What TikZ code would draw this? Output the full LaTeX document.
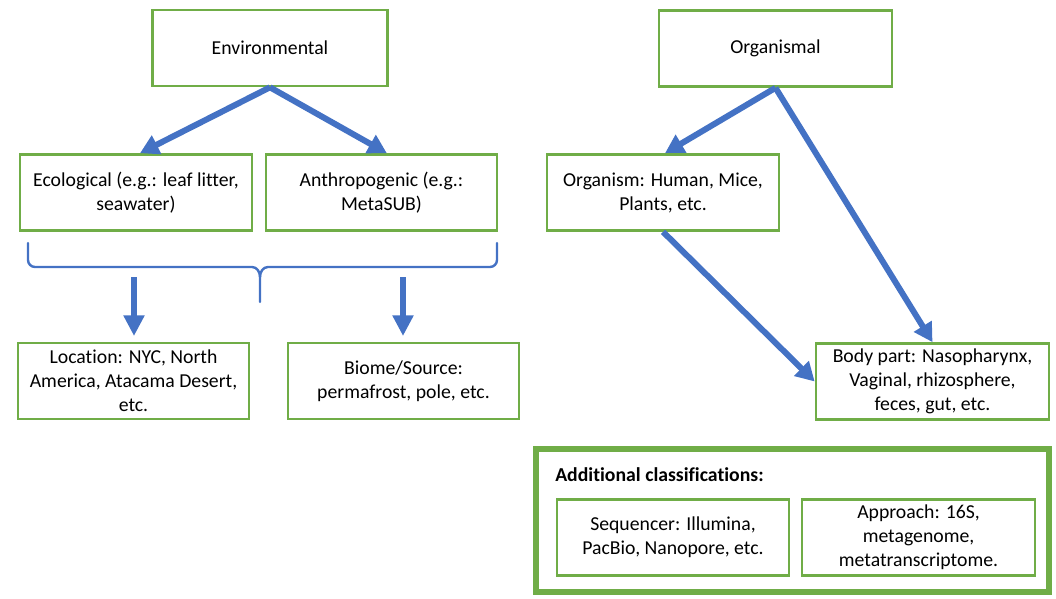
\documentclass[tikz,border=0pt]{standalone}
\usepackage{fontspec}
\setmainfont{Carlito}[Ligatures=NoCommon]
\usetikzlibrary{arrows.meta}
\definecolor{boxgreen}{HTML}{70AD47}
\definecolor{arrblue}{HTML}{4472C4}
\tikzset{
  catbox/.style={draw=boxgreen, line width=2pt, fill=white, inner sep=0pt,
    minimum height=76*0.75pt, align=center,
    font=\fontsize{14.8pt}{18pt}\selectfont},
  bigarrow/.style={draw=arrblue, line width=4.5pt,
    -{Triangle[length=14pt,width=15pt]}},
  downarrow/.style={draw=arrblue, line width=5.2pt,
    -{Triangle[length=15.5pt,width=15pt]}},
  bracepath/.style={draw=arrblue, line width=1.8pt, line cap=round},
}
\begin{document}
\begin{tikzpicture}[x=0.75pt,y=-0.75pt]
\useasboundingbox (0,0) rectangle (1056,599);

% top level
\node[catbox, minimum width=235*0.75pt] (env) at (270,48) {Environmental};
\node[catbox, minimum width=233*0.75pt] (org) at (775.5,48.5) {Organismal};

% second level
\node[catbox, minimum width=232*0.75pt] (eco) at (136,192.5) {Ecological (e.g.: leaf litter,\\ seawater)};
\node[catbox, minimum width=231*0.75pt] (anth) at (381.5,192.5) {Anthropogenic (e.g.:\\ MetaSUB)};
\node[catbox, minimum width=232*0.75pt] (orgm) at (663,192.5) {Organism: Human, Mice,\\ Plants, etc.};

% third level
\node[catbox, minimum width=231*0.75pt] (loc) at (133.5,381) {Location: NYC, North\\ America, Atacama Desert,\\ etc.};
\node[catbox, minimum width=231*0.75pt] (bio) at (403.5,381) {Biome/Source:\\ permafrost, pole, etc.};
\node[catbox, minimum width=233*0.75pt] (body) at (932.5,381.5) {Body part: Nasopharynx,\\ Vaginal, rhizosphere,\\ feces, gut, etc.};

% additional classifications
\node[draw=boxgreen, line width=4.5pt, inner sep=0pt, minimum width=513*0.75pt,
  minimum height=143*0.75pt] (addl) at (792.5,520.5) {};
\node[anchor=base west, inner sep=0pt, font=\fontsize{14.8pt}{18pt}\selectfont\bfseries] (addlt) at (555,481) {Additional classifications:};
\node[catbox, minimum width=232*0.75pt] (seq) at (673,537.5) {Sequencer: Illumina,\\ PacBio, Nanopore, etc.};
\node[catbox, minimum width=233*0.75pt] (appr) at (918.5,537.5) {Approach: 16S,\\ metagenome,\\ metatranscriptome.};

% arrows
\draw[bigarrow] (env.south) -- ([xshift=3pt]eco.north);
\draw[bigarrow] (env.south) -- ([xshift=4pt]anth.north);
\draw[bigarrow] (org.south) -- ([xshift=1.5pt]orgm.north);
\draw[bigarrow] (org.south) -- (body.north);
\draw[bigarrow] (orgm.south) -- (body.west);

% brace
\coordinate (brL) at (28,243);
\coordinate (brR) at (497,243);
\coordinate (brM) at (260,302);
\draw[bracepath] (brL) -- (28,260) to[out=-90,in=180] (35,267) -- (252,267)
  to[out=0,in=90] (260,277) -- (brM);
\draw[bracepath] (260,277) to[out=90,in=180] (268,267) -- (490,267)
  to[out=0,in=-90] (497,260) -- (brR);

% down arrows
\coordinate (d1s) at (134,277);
\coordinate (d1e) at (134,336);
\coordinate (d2s) at (403,277);
\coordinate (d2e) at (403,336);
\draw[downarrow] (d1s) -- (d1e);
\draw[downarrow] (d2s) -- (d2e);
\end{tikzpicture}
\end{document}
